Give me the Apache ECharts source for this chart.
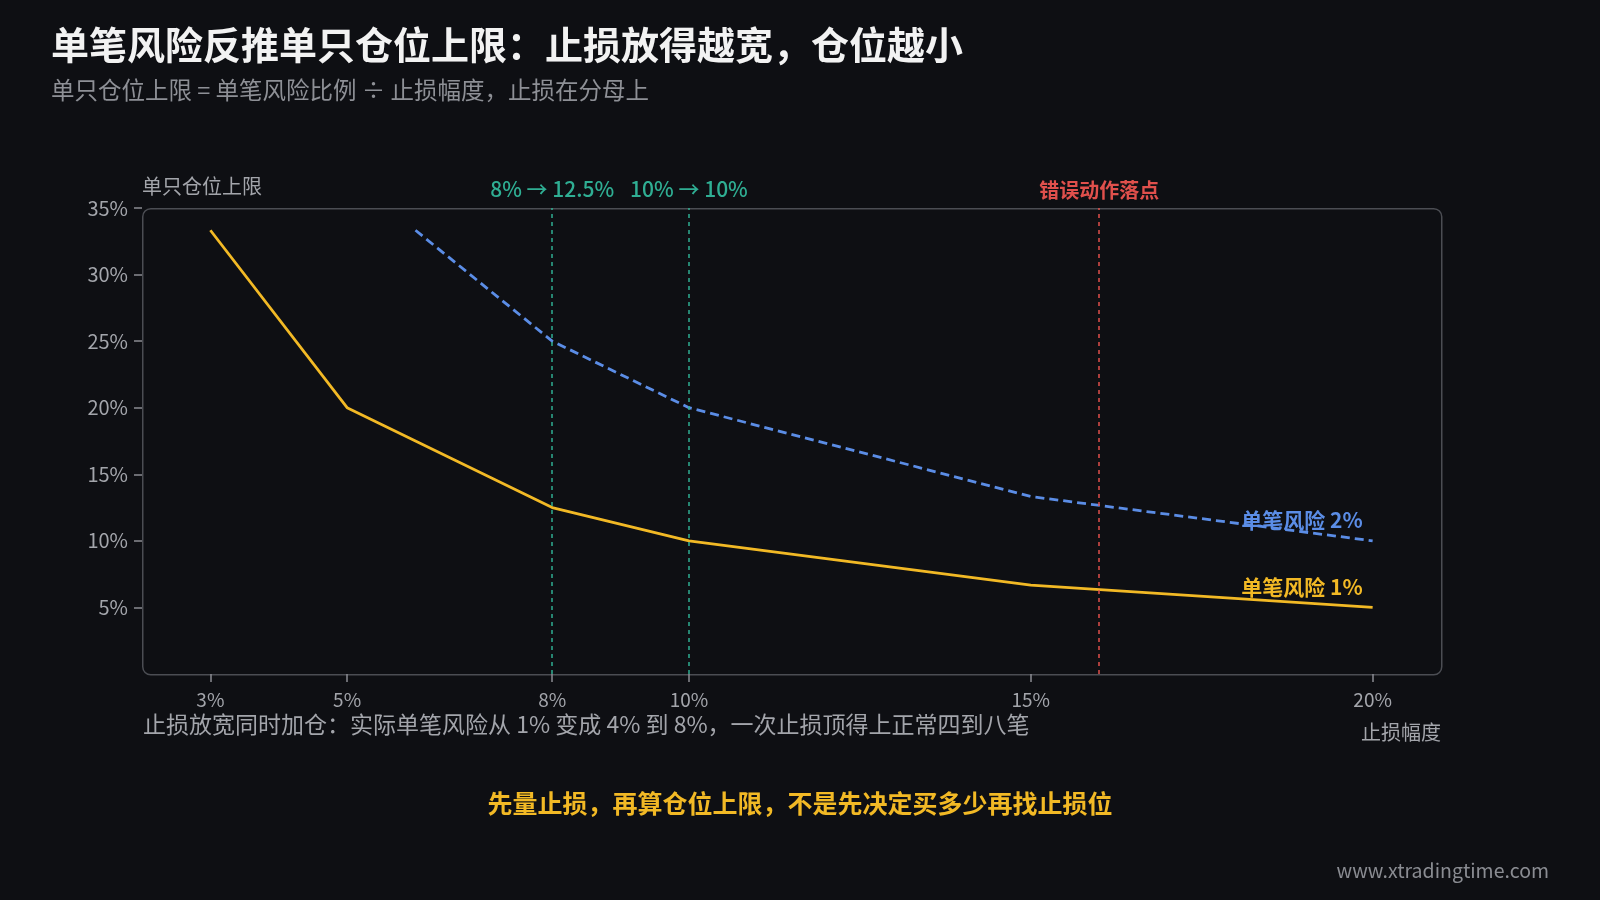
<!DOCTYPE html>
<html>
<head>
<meta charset="utf-8">
<script src="https://cdn.jsdelivr.net/npm/echarts@6/dist/echarts.min.js"></script>
<style>
html,body{margin:0;padding:0;background:#0e0f13;}
#c{width:1600px;height:900px;}
</style>
</head>
<body>
<div id="c"></div>
<script>
// ---- data ----
const titleText = '单笔风险反推单只仓位上限：止损放得越宽，仓位越小';
const subtitleText = '单只仓位上限 = 单笔风险比例 ÷ 止损幅度，止损在分母上';
const noteText = '止损放宽同时加仓：实际单笔风险从 1% 变成 4% 到 8%，一次止损顶得上正常四到八笔';
const captionText = '先量止损，再算仓位上限，不是先决定买多少再找止损位';
const watermarkText = 'www.xtradingtime.com';
const xAxisName = '止损幅度';
const yAxisName = '单只仓位上限';

const xTickValues = [3, 5, 8, 10, 15, 20];
const yTickValues = [5, 10, 15, 20, 25, 30, 35];

const risk1Name = '单笔风险 1%';
const risk1Stops = [3, 5, 8, 10, 15, 20];
const risk1Caps = [33.33, 20, 12.5, 10, 6.67, 5];

const risk2Name = '单笔风险 2%';
const risk2Stops = [6, 8, 10, 15, 20];
const risk2Caps = [33.33, 25, 20, 13.33, 10];

const greenMarkerX = [8, 10];
const greenMarkerLabels = ['8% → 12.5%', '10% → 10%'];
const redMarkerX = [16];
const redMarkerLabels = ['错误动作落点'];

// ---- styles ----
const FONT = '"Noto Sans CJK SC", "Noto Sans", sans-serif';
const C_YELLOW = '#f2b925';
const C_BLUE = '#5b8de6';
const C_GREEN = '#2fae93';
const C_RED = '#e0504c';
const C_BORDER = '#4b4d53';

const GRID = {left: 142, right: 159, top: 208, bottom: 226};

function pairs(xs, ys) { return xs.map((x, i) => [x, ys[i]]); }
function lastLabel(data, color) {
  return data.map((d, i) => i === data.length - 1 ? {
    value: d,
    label: {show: true, position: 'top', align: 'right', distance: 10, offset: [-10, 0],
      color: color, fontSize: 21, fontWeight: 'bold', fontFamily: FONT,
      formatter: '{a}'}
  } : {value: d});
}

const chart = echarts.init(document.getElementById('c'), null, {renderer: 'canvas'});
const option = {
  backgroundColor: '#0e0f13',
  animation: false,
  textStyle: {fontFamily: FONT},
  title: [
    {text: titleText, left: 46, top: 21, textStyle: {color: '#f2f2f2', fontSize: 38, fontWeight: 'bold', fontFamily: FONT}},
    {text: subtitleText, left: 46, top: 73, textStyle: {color: '#8e9096', fontSize: 23.5, fontWeight: 'normal', fontFamily: FONT}},
    {text: noteText, left: 138, top: 708, textStyle: {color: '#a3a5ab', fontSize: 23, fontWeight: 'normal', fontFamily: FONT}},
    {text: xAxisName, right: 154, top: 717, textStyle: {color: '#a3a5ab', fontSize: 20, fontWeight: 'normal', fontFamily: FONT}},
    {text: captionText, left: 'center', top: 786, textStyle: {color: C_YELLOW, fontSize: 25, fontWeight: 'bold', fontFamily: FONT}},
    {text: watermarkText, right: 46, top: 856, textStyle: {color: '#8a8c92', fontSize: 19.5, fontWeight: 'normal', fontFamily: FONT}}
  ],
  grid: {left: GRID.left, right: GRID.right, top: GRID.top, bottom: GRID.bottom, show: false},
  graphic: [{
    type: 'rect', left: GRID.left, top: GRID.top, silent: true, z: 0,
    shape: {width: 1600 - GRID.left - GRID.right, height: 900 - GRID.top - GRID.bottom, r: 8},
    style: {fill: '#0e0f13', stroke: C_BORDER, lineWidth: 1.5}
  }],
  xAxis: {
    type: 'value', min: 2, max: 21,
    axisLine: {show: false},
    splitLine: {show: false},
    axisTick: {show: true, length: 8, customValues: xTickValues, lineStyle: {color: '#8a8c92', width: 1.5}},
    axisLabel: {customValues: xTickValues, formatter: '{value}%', color: '#a3a5ab', fontSize: 19, margin: 16, fontFamily: FONT}
  },
  yAxis: {
    type: 'value', min: 0, max: 35, interval: 5,
    name: yAxisName, nameLocation: 'end', nameGap: 22,
    nameTextStyle: {color: '#a3a5ab', fontSize: 20, align: 'left', verticalAlign: 'middle', fontFamily: FONT},
    axisLine: {show: false},
    splitLine: {show: false},
    axisTick: {show: true, length: 8, customValues: yTickValues, lineStyle: {color: '#8a8c92', width: 1.5}},
    axisLabel: {customValues: yTickValues, formatter: '{value}%', color: '#a3a5ab', fontSize: 20, margin: 14, fontFamily: FONT}
  },
  series: [
    {
      name: 'markers', type: 'line', data: [], silent: true,
      markLine: {
        silent: true, symbol: ['none', 'none'],
        data: [
          ...greenMarkerX.map((x, i) => ({xAxis: x, lineStyle: {color: C_GREEN, type: [4, 4], width: 1.5},
            label: {show: true, position: 'end', distance: 8, formatter: greenMarkerLabels[i], color: C_GREEN, fontSize: 21, fontWeight: 500, fontFamily: FONT}})),
          ...redMarkerX.map((x, i) => ({xAxis: x, lineStyle: {color: C_RED, type: [4, 4], width: 1.5},
            label: {show: true, position: 'end', distance: 8, formatter: redMarkerLabels[i], color: C_RED, fontSize: 20, fontWeight: 'bold', fontFamily: FONT}}))
        ]
      }
    },
    {
      name: risk2Name, type: 'line', showSymbol: true, symbol: 'circle', symbolSize: 0,
      lineStyle: {color: C_BLUE, width: 2.8, type: [9, 5]},
      itemStyle: {color: C_BLUE},
      data: lastLabel(pairs(risk2Stops, risk2Caps), C_BLUE), z: 3
    },
    {
      name: risk1Name, type: 'line', showSymbol: true, symbol: 'circle', symbolSize: 0,
      lineStyle: {color: C_YELLOW, width: 2.8},
      itemStyle: {color: C_YELLOW},
      data: lastLabel(pairs(risk1Stops, risk1Caps), C_YELLOW), z: 3
    }
  ]
};
chart.setOption(option);
</script>
</body>
</html>
